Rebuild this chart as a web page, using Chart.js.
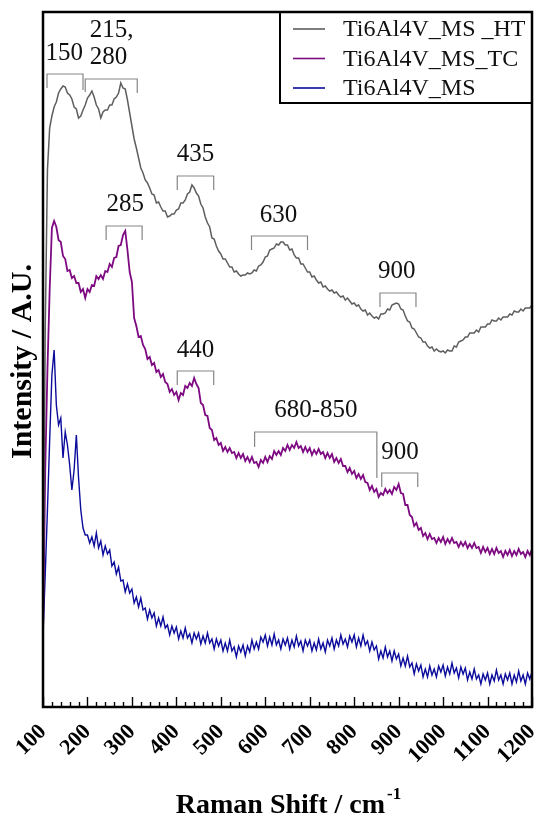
<!DOCTYPE html>
<html>
<head>
<meta charset="utf-8">
<script src="https://cdn.jsdelivr.net/npm/chart.js@4.4.1/dist/chart.umd.min.js"></script>
<style>
html,body{margin:0;padding:0;background:#fff;}
canvas{display:block;}
</style>
</head>
<body>
<canvas id="c" width="540" height="818"></canvas>
<script>
// Raman shift axis (cm-1), sampled every 5 cm-1 from 100 to 1200
const shiftStart = 100, shiftStep = 5, shiftCount = 221;
const ramanShift = Array.from({length: shiftCount}, (_, i) => shiftStart + shiftStep * i);

const seriesNames = ['Ti6Al4V_MS _HT', 'Ti6Al4V_MS_TC', 'Ti6Al4V_MS'];

const htValues = [67,377,537,579,591,600,605,614,618,621,
620,614,612,608,600,598,589,591,597,602,
609,612,616,610,602,598,589,595,597,597,
602,602,608,610,614,624,619,618,607,594,
581,568,559,549,539,534,527,524,519,513,
512,504,505,500,496,496,490,491,493,493,
497,498,504,504,507,513,515,522,519,514,
511,503,499,490,484,480,469,468,461,456,
453,448,448,444,440,440,435,436,433,431,
432,432,434,433,434,437,436,441,442,445,
450,451,457,458,459,463,462,465,465,462,
462,457,458,452,449,449,443,443,439,435,
435,430,431,427,424,425,420,421,418,416,
417,414,415,412,410,411,407,409,406,403,
404,401,402,398,396,397,392,394,391,389,
390,388,393,393,394,398,397,402,403,404,
403,398,397,391,386,385,379,378,374,370,
369,365,365,361,359,360,356,358,356,355,
356,354,357,356,356,361,360,365,366,367,
370,370,374,374,374,377,375,380,380,380,
383,383,387,386,386,389,387,390,390,390,
393,392,396,395,395,398,396,399,399,399,
402];

const tcValues = [67,237,337,417,479,486,480,467,465,451,
448,436,437,429,431,424,424,415,418,409,
418,415,422,421,431,428,432,428,436,435,
443,440,449,450,461,462,472,476,457,435,
425,389,381,370,371,362,358,348,350,342,
344,335,337,330,333,325,323,315,318,312,
315,307,314,312,321,319,324,321,329,323,
319,304,302,292,291,279,277,267,269,262,
264,256,260,255,259,254,255,249,254,249,
253,246,250,245,250,244,245,240,247,244,
250,245,251,248,256,252,256,252,259,256,
262,257,262,259,265,259,261,255,260,255,
259,252,257,253,258,253,255,249,254,249,
253,245,249,244,248,241,241,235,239,233,
236,229,233,228,232,225,224,217,221,215,
218,210,214,212,218,214,217,213,220,217,
223,214,213,202,202,192,190,181,184,177,
179,171,174,168,173,168,169,164,169,165,
170,163,168,164,169,164,165,160,165,161,
165,159,163,159,164,159,160,154,160,155,
159,153,158,153,159,154,156,150,156,152,
157,151,156,152,158,153,155,150,156,152,
158];

const msValues = [72,132,197,267,332,357,302,282,289,249,
275,262,242,217,237,272,229,197,179,172,
172,164,170,161,174,159,166,152,161,153,
157,141,145,133,140,126,127,115,123,114,
118,104,110,100,109,97,99,88,97,89,
94,81,89,81,90,79,82,72,81,74,
80,68,76,69,79,69,73,64,74,68,
74,63,71,64,74,64,68,58,68,61,
67,56,64,56,67,56,60,50,61,55,
62,51,61,55,67,58,65,58,70,65,
72,61,70,62,73,62,67,58,68,62,
69,58,67,60,71,61,66,56,67,61,
67,56,64,57,68,58,64,55,67,61,
69,58,67,61,72,63,68,60,71,65,
72,60,69,61,72,62,66,56,65,57,
61,48,56,49,60,50,56,46,56,48,
53,41,49,41,51,40,44,33,43,36,
42,30,38,30,41,32,38,30,41,35,
42,31,40,33,44,34,39,29,40,33,
39,27,35,28,38,28,32,23,33,27,
34,23,32,26,37,27,32,23,33,27,
34,23,32,25,36,26,32,23,34,28,
35];

const xTickValues = [100,200,300,400,500,600,700,800,900,1000,1100,1200];

// Peak annotations (data units): [shift start, shift end, top intensity, left leg end, right leg end]
const peakBrackets = [
  [109, 190, 633, 619, 617],
  [195, 312, 628, 615, 614],
  [402, 484, 531, 517, 517],
  [242, 323, 481, 467, 467],
  [569, 695, 471, 457, 457],
  [858, 939, 414, 400, 400],
  [402, 484, 336, 322, 322],
  [576, 851, 275, 260, 229],
  [862, 943, 234, 220, 220]
];
const peakTexts = ['150', '215,', '280', '435', '285', '630', '900', '440', '680-850', '900'];
const peakTextShift = [148, 205, 205, 443, 285, 630, 896, 443, 714, 903];
const peakTextLevel = [647, 670, 643, 546, 496, 485, 429, 350, 290, 248];
const peakTextAlign = ['center','left','left','center','center','center','center','center','center','center'];

const colors = ['#5e5e5e', '#7e0a82', '#0c0c9c'];
const widths = [1.5, 1.8, 1.4];
const allValues = [htValues, tcValues, msValues];

const datasets = allValues.map((vals, k) => ({
  label: seriesNames[k],
  data: ramanShift.map((s, i) => ({x: s, y: vals[i]})),
  borderColor: colors[k],
  backgroundColor: colors[k],
  borderWidth: widths[k],
  pointRadius: 0,
  tension: 0,
  fill: false
}));

const SERIF = '"Liberation Serif", "Times New Roman", serif';

const overlay = {
  id: 'overlay',
  afterDraw(chart) {
    const {ctx, chartArea: a, scales: {x, y}} = chart;
    ctx.save();
    // inward ticks
    ctx.strokeStyle = '#000';
    ctx.lineWidth = 1.4;
    for (let v = 100; v <= 1200; v += 20) {
      const px = Math.round(x.getPixelForValue(v)) + 0.5;
      const len = (v % 100 === 0) ? 10 : 5;
      ctx.beginPath();
      ctx.moveTo(px, a.bottom);
      ctx.lineTo(px, a.bottom - len);
      ctx.stroke();
    }
    // frame
    ctx.lineWidth = 2.5;
    ctx.strokeRect(a.left, a.top, a.right - a.left, a.bottom - a.top);

    // brackets
    ctx.strokeStyle = '#858585';
    ctx.lineWidth = 1.2;
    peakBrackets.forEach(b => {
      const x1 = x.getPixelForValue(b[0]), x2 = x.getPixelForValue(b[1]);
      const yt = y.getPixelForValue(b[2]), yl = y.getPixelForValue(b[3]), yr = y.getPixelForValue(b[4]);
      ctx.beginPath();
      ctx.moveTo(x1, yl); ctx.lineTo(x1, yt); ctx.lineTo(x2, yt); ctx.lineTo(x2, yr);
      ctx.stroke();
    });
    // peak labels
    ctx.fillStyle = '#111';
    ctx.font = '25px ' + SERIF;
    ctx.textBaseline = 'alphabetic';
    peakTexts.forEach((t, i) => {
      ctx.textAlign = peakTextAlign[i];
      ctx.fillText(t, x.getPixelForValue(peakTextShift[i]), y.getPixelForValue(peakTextLevel[i]));
    });

    // legend
    const lx = a.right - 252;
    ctx.strokeStyle = '#000';
    ctx.lineWidth = 2;
    ctx.strokeRect(lx, a.top, a.right - lx, 91);
    ctx.font = '24px ' + SERIF;
    ctx.textAlign = 'left';
    ctx.textBaseline = 'middle';
    chart.data.datasets.forEach((ds, i) => {
      const ly = a.top + 17 + i * 29.5;
      ctx.strokeStyle = ds.borderColor;
      ctx.lineWidth = 1.6;
      ctx.beginPath();
      ctx.moveTo(lx + 13, ly); ctx.lineTo(lx + 45, ly);
      ctx.stroke();
      ctx.fillStyle = '#111';
      ctx.fillText(ds.label, lx + 63, ly + 1);
    });

    // x title with superscript
    ctx.fillStyle = '#000';
    ctx.textBaseline = 'alphabetic';
    const main = 'Raman Shift / cm', sup = '-1';
    ctx.font = 'bold 28px ' + SERIF;
    const wm = ctx.measureText(main).width;
    ctx.font = 'bold 17px ' + SERIF;
    const ws = ctx.measureText(sup).width;
    const cx = (a.left + a.right) / 2 + 1;
    const x0 = cx - (wm + ws + 2) / 2;
    ctx.font = 'bold 28px ' + SERIF;
    ctx.textAlign = 'left';
    ctx.fillText(main, x0, 813);
    ctx.font = 'bold 17px ' + SERIF;
    ctx.fillText(sup, x0 + wm + 2, 799);

    // y title
    ctx.save();
    ctx.translate(23, (a.top + a.bottom) / 2 + 2);
    ctx.rotate(-Math.PI / 2);
    ctx.font = 'bold 30px ' + SERIF;
    ctx.textAlign = 'center';
    ctx.textBaseline = 'middle';
    ctx.fillText('Intensity / A.U.', 0, 0);
    ctx.restore();

    ctx.restore();
  }
};

new Chart(document.getElementById('c'), {
  type: 'line',
  data: {datasets},
  options: {
    responsive: false,
    animation: false,
    devicePixelRatio: 1,
    layout: {padding: {top: 12, right: 8, left: 0, bottom: 0}},
    plugins: {legend: {display: false}, tooltip: {enabled: false}},
    scales: {
      x: {
        type: 'linear',
        min: 100, max: 1200,
        afterBuildTicks: s => { s.ticks = xTickValues.map(v => ({value: v})); },
        afterFit: s => { s.height = 111; s.paddingLeft = 0; s.paddingRight = 0; },
        grid: {display: false, drawTicks: false},
        border: {display: false},
        ticks: {
          autoSkip: false,
          maxRotation: 45, minRotation: 45,
          padding: 12,
          color: '#000',
          font: {family: SERIF, size: 22, weight: 'bold'},
          callback: v => String(v)
        }
      },
      y: {
        min: 0, max: 695,
        afterFit: s => { s.width = 43; s.paddingTop = 0; s.paddingBottom = 0; },
        grid: {display: false},
        border: {display: false},
        ticks: {display: false}
      }
    }
  },
  plugins: [overlay]
});
</script>
</body>
</html>
